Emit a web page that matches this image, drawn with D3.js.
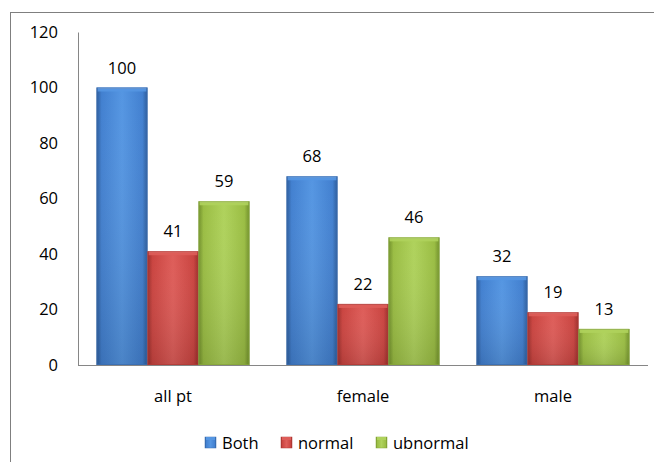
<!DOCTYPE html>
<html>
<head>
<meta charset="utf-8">
<script src="https://cdn.jsdelivr.net/npm/d3@7"></script>
<style>
  html, body { margin: 0; padding: 0; background: #fff; }
  svg { display: block; font-family: "Open Sans", "Lato", sans-serif; }
</style>
</head>
<body>
<svg id="chart" width="654" height="462"></svg>
<script>
const categories = ["all pt", "female", "male"];
const seriesNames = ["Both", "normal", "ubnormal"];
const both = [100, 68, 32];
const normal = [41, 22, 19];
const ubnormal = [59, 46, 13];
const yTicks = [0, 20, 40, 60, 80, 100, 120];

const seriesValues = [both, normal, ubnormal];
const palette = [
  { light: "#5596e2", mid: "#4280d0", dark: "#2d5c9a", edge: "#3a6db0" },
  { light: "#de5d59", mid: "#ca4440", dark: "#9a2e2b", edge: "#b13a36" },
  { light: "#afd25c", mid: "#9aBd43", dark: "#708f2b", edge: "#86a63a" }
];
const FS = 16.5;

const svg = d3.select("#chart");
const plot = { left: 78, right: 648, top: 32, bottom: 365 };

// chart frame (runs off the right and bottom edges)
svg.append("rect")
  .attr("x", 10.5).attr("y", 12.5)
  .attr("width", 660).attr("height", 470)
  .attr("fill", "#fff").attr("stroke", "#7f7f7f").attr("stroke-width", 1);

const x0 = d3.scaleBand().domain(categories).range([plot.left, plot.right]).paddingInner(0).paddingOuter(0);
const x1 = d3.scaleBand().domain(seriesNames).range([0, x0.bandwidth()]).paddingInner(0).paddingOuter(0.363);
const y = d3.scaleLinear().domain([0, 120]).range([plot.bottom, plot.top]);

// gradients for the bevelled bars
const defs = svg.append("defs");
palette.forEach((c, i) => {
  const g = defs.append("linearGradient").attr("id", "grad" + i)
    .attr("x1", 0).attr("x2", 1).attr("y1", 0).attr("y2", 0);
  g.append("stop").attr("offset", "0%").attr("stop-color", c.dark);
  g.append("stop").attr("offset", "10%").attr("stop-color", c.mid);
  g.append("stop").attr("offset", "50%").attr("stop-color", c.light);
  g.append("stop").attr("offset", "90%").attr("stop-color", c.mid);
  g.append("stop").attr("offset", "100%").attr("stop-color", c.dark);
  const v = defs.append("linearGradient").attr("id", "vgrad" + i)
    .attr("x1", 0).attr("x2", 0).attr("y1", 0).attr("y2", 1);
  v.append("stop").attr("offset", "0%").attr("stop-color", "#fff").attr("stop-opacity", 0.0);
  v.append("stop").attr("offset", "100%").attr("stop-color", "#000").attr("stop-opacity", 0.12);
});

// y axis
const yAxis = d3.axisLeft(y).tickValues(yTicks).tickSize(0).tickPadding(20);
const yg = svg.append("g").attr("transform", `translate(${plot.left},0)`).call(yAxis);
yg.select(".domain").attr("stroke", "#868686");
yg.selectAll("text").attr("font-size", FS).attr("fill", "#000")
  .attr("font-family", "Open Sans, Lato, sans-serif");

// bars
const groups = svg.append("g").selectAll("g").data(categories).join("g")
  .attr("transform", d => `translate(${x0(d)},0)`);

groups.each(function(cat, ci) {
  const g = d3.select(this);
  seriesNames.forEach((s, si) => {
    const v = seriesValues[si][ci];
    const bx = x1(s), bw = x1.bandwidth();
    const by = y(v), bh = y(0) - y(v);
    const c = palette[si];
    g.append("rect").attr("x", bx).attr("y", by).attr("width", bw).attr("height", bh)
      .attr("fill", `url(#grad${si})`);
    g.append("rect").attr("x", bx).attr("y", by).attr("width", bw).attr("height", bh)
      .attr("fill", `url(#vgrad${si})`);
    // top bevel highlight
    g.append("rect").attr("x", bx + 1).attr("y", by).attr("width", bw - 2).attr("height", Math.min(4, bh))
      .attr("fill", c.light).attr("opacity", 0.9);
    g.append("line").attr("x1", bx + 1).attr("x2", bx + bw - 1).attr("y1", by + 0.5).attr("y2", by + 0.5)
      .attr("stroke", "#fff").attr("stroke-opacity", 0.45);
    g.append("rect").attr("x", bx + 0.5).attr("y", by + 0.5).attr("width", bw - 1).attr("height", bh - 1)
      .attr("fill", "none").attr("stroke", c.edge).attr("stroke-width", 1).attr("stroke-opacity", 0.8);
    g.append("text").attr("x", bx + bw / 2).attr("y", by - 14)
      .attr("text-anchor", "middle").attr("font-size", FS).attr("fill", "#000")
      .text(v);
  });
});

// baseline
svg.append("line").attr("x1", plot.left).attr("x2", plot.right)
  .attr("y1", plot.bottom + 0.5).attr("y2", plot.bottom + 0.5)
  .attr("stroke", "#868686");

// category labels
svg.append("g").selectAll("text").data(categories).join("text")
  .attr("x", d => x0(d) + x0.bandwidth() / 2).attr("y", 402)
  .attr("text-anchor", "middle").attr("font-size", FS).attr("fill", "#000")
  .text(d => d);

// legend
const legendX = [205, 281, 376];
const lg = svg.append("g").selectAll("g").data(seriesNames).join("g")
  .attr("transform", (d, i) => `translate(${legendX[i]},437)`);
lg.append("rect").attr("width", 11).attr("height", 11)
  .attr("fill", (d, i) => `url(#grad${i})`)
  .attr("stroke", (d, i) => palette[i].edge).attr("stroke-width", 0.5);
lg.append("rect").attr("x", 1).attr("y", 0).attr("width", 9).attr("height", 3)
  .attr("fill", (d, i) => palette[i].light);
lg.append("text").attr("x", 17).attr("y", 11.5)
  .attr("font-size", FS).attr("fill", "#000").text(d => d);
</script>
</body>
</html>
